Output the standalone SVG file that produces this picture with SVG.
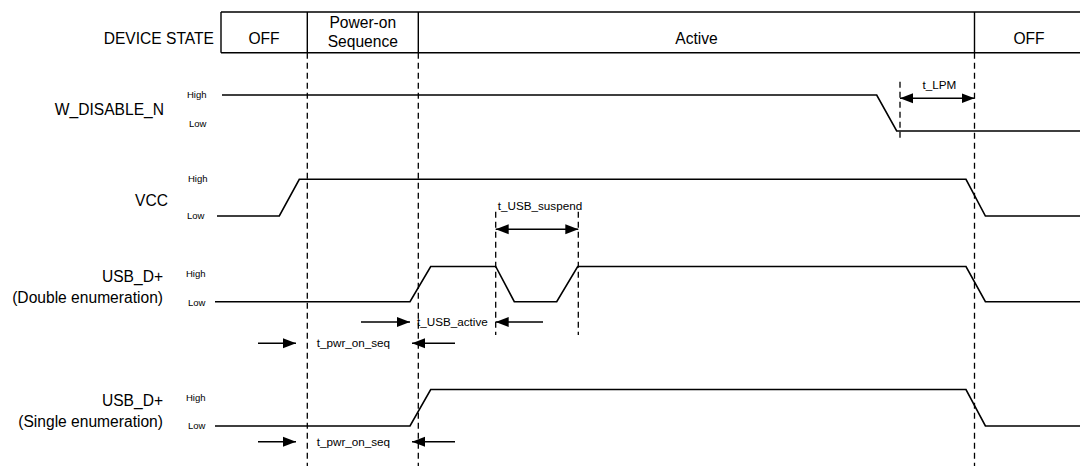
<svg xmlns="http://www.w3.org/2000/svg" width="1080" height="466" viewBox="0 0 1080 466">
  <defs>
    <marker id="ah" markerUnits="userSpaceOnUse" markerWidth="14" markerHeight="12" viewBox="0 0 14 12" refX="13" refY="6" orient="auto-start-reverse">
      <path d="M0,1 L13,6 L0,11 Z" fill="#000"/>
    </marker>
    <style>
      .lbl { font-family: "Liberation Sans", Arial, sans-serif; font-size: 15.6px; fill: #000; }
      .lvl { font-family: "Liberation Sans", Arial, sans-serif; font-size: 9.5px; fill: #000; }
      .tm { font-family: "Liberation Sans", Arial, sans-serif; font-size: 11.7px; fill: #000; }
      .sig { fill: none; stroke: #000; stroke-width: 1.6; stroke-linejoin: miter; }
      .box { fill: none; stroke: #000; stroke-width: 1.4; }
      .dash { fill: none; stroke: #000; stroke-width: 1.3; stroke-dasharray: 6 4; }
      .arr { fill: none; stroke: #000; stroke-width: 1.6; }
    </style>
  </defs>
  <rect width="1080" height="466" fill="#fff"/>

  <g id="device-state">
    <text class="lbl" x="214" y="44.4" text-anchor="end">DEVICE STATE</text>
    <path class="box" d="M221,12 H1080 M221,52.7 H1080 M221,12 V52.7 M307.3,12 V52.7 M418.3,12 V52.7 M974.5,12 V52.7"/>
    <text class="lbl" x="264" y="44.4" text-anchor="middle">OFF</text>
    <text class="lbl" x="362.8" y="28.4" text-anchor="middle">Power-on</text>
    <text class="lbl" x="362.8" y="47.4" text-anchor="middle">Sequence</text>
    <text class="lbl" x="696.5" y="44.4" text-anchor="middle">Active</text>
    <text class="lbl" x="1029" y="44.4" text-anchor="middle">OFF</text>
  </g>

  <g id="w-disable-n">
    <text class="lbl" x="164" y="114.5" text-anchor="end">W_DISABLE_N</text>
    <text class="lvl" x="187" y="98.3">High</text>
    <text class="lvl" x="189" y="127.3">Low</text>
    <path class="sig" d="M222,95 H876.7 L896.7,131 H1080"/>
  </g>

  <g id="vcc">
    <text class="lbl" x="168" y="206" text-anchor="end">VCC</text>
    <text class="lvl" x="188" y="182.3">High</text>
    <text class="lvl" x="187" y="219.3">Low</text>
    <path class="sig" d="M217,216 H279.3 L299.3,179.3 H966 L985.4,216 H1080"/>
  </g>

  <g id="usb-double">
    <text class="lbl" x="163" y="281.5" text-anchor="end">USB_D+</text>
    <text class="lbl" x="163" y="302.5" text-anchor="end">(Double enumeration)</text>
    <text class="lvl" x="186" y="277.3">High</text>
    <text class="lvl" x="188" y="305.6">Low</text>
    <path class="sig" d="M215,301.7 H410 L430.7,266.5 H495.7 L514.3,301.7 H556.7 L577.7,266.5 H966 L985.4,301.7 H1080"/>
  </g>

  <g id="usb-single">
    <text class="lbl" x="163" y="406.2" text-anchor="end">USB_D+</text>
    <text class="lbl" x="163" y="427.2" text-anchor="end">(Single enumeration)</text>
    <text class="lvl" x="186" y="401">High</text>
    <text class="lvl" x="188" y="429.3">Low</text>
    <path class="sig" d="M215,426 H410 L430.7,389.5 H966 L985.4,426 H1080"/>
  </g>

  <g id="connectors">
    <path class="dash" d="M307.3,52.7 V466 M418.3,52.7 V466 M974.5,52.7 V466"/>
    <path class="dash" d="M900,81.7 V141.7"/>
    <path class="dash" d="M495.7,211.7 V335 M578.3,211.7 V335"/>

    <line class="arr" x1="900" y1="98.3" x2="974.5" y2="98.3" marker-start="url(#ah)" marker-end="url(#ah)"/>
    <line class="arr" x1="495.7" y1="229.3" x2="578.3" y2="229.3" marker-start="url(#ah)" marker-end="url(#ah)"/>

    <line class="arr" x1="361" y1="322" x2="410" y2="322" marker-end="url(#ah)"/>
    <line class="arr" x1="543" y1="322" x2="495.7" y2="322" marker-end="url(#ah)"/>

    <line class="arr" x1="258" y1="343.3" x2="296" y2="343.3" marker-end="url(#ah)"/>
    <line class="arr" x1="455" y1="343.3" x2="412" y2="343.3" marker-end="url(#ah)"/>

    <line class="arr" x1="258" y1="441.7" x2="296" y2="441.7" marker-end="url(#ah)"/>
    <line class="arr" x1="455" y1="441.7" x2="412" y2="441.7" marker-end="url(#ah)"/>
  </g>

  <g id="timing-labels">
    <text class="tm" x="939.3" y="89" text-anchor="middle">t_LPM</text>
    <text class="tm" x="497.7" y="210">t_USB_suspend</text>
    <text class="tm" x="417" y="326">t_USB_active</text>
    <text class="tm" x="316.7" y="347.2">t_pwr_on_seq</text>
    <text class="tm" x="316.7" y="445.8">t_pwr_on_seq</text>
  </g>
</svg>
